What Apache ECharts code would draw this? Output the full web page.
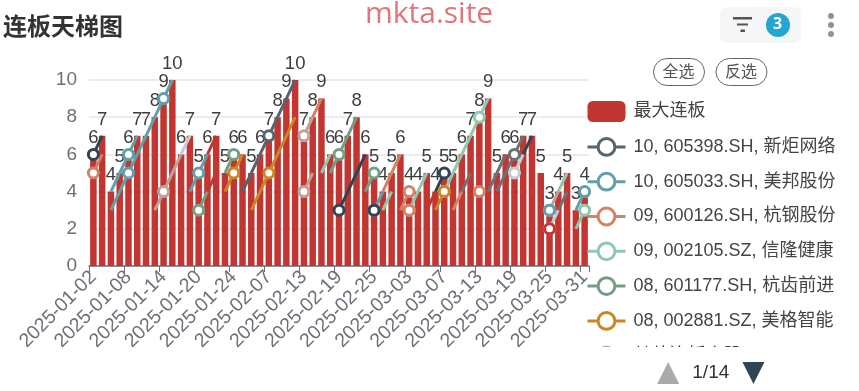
<!DOCTYPE html>
<html>
<head>
<meta charset="utf-8">
<style>html,body{margin:0;padding:0;background:#fff}#c{width:859px;height:391px}</style>
<script src="https://cdn.jsdelivr.net/npm/echarts@6/dist/echarts.min.js"></script>
</head>
<body>
<div id="c"></div>
<script>
const categories = [
'2025-01-02','2025-01-03','2025-01-06','2025-01-07','2025-01-08','2025-01-09','2025-01-10','2025-01-13','2025-01-14','2025-01-15',
'2025-01-16','2025-01-17','2025-01-20','2025-01-21','2025-01-22','2025-01-23','2025-01-24','2025-01-27','2025-02-05','2025-02-06',
'2025-02-07','2025-02-10','2025-02-11','2025-02-12','2025-02-13','2025-02-14','2025-02-17','2025-02-18','2025-02-19','2025-02-20',
'2025-02-21','2025-02-24','2025-02-25','2025-02-26','2025-02-27','2025-02-28','2025-03-03','2025-03-04','2025-03-05','2025-03-06',
'2025-03-07','2025-03-10','2025-03-11','2025-03-12','2025-03-13','2025-03-14','2025-03-17','2025-03-18','2025-03-19','2025-03-20',
'2025-03-21','2025-03-24','2025-03-25','2025-03-26','2025-03-27','2025-03-28','2025-03-31'];
const maxBoards = [6,7,4,5,6,7,7,8,9,10,6,7,5,6,7,5,6,6,5,6,7,8,9,10,7,8,9,6,6,7,8,6,5,4,5,6,4,4,5,4,5,5,6,7,8,9,5,6,6,7,7,5,3,4,5,3,4];

// Each run: first number = index of its first trading day, then the board counts
const runXinju = [17,4,5,6,7,8,9,10];
const runMeibang = [2,3,4,5,6,7,8,9,10];
const runHanggang = [25,8,9];
const runXinlong = [40,4,5,6,7,8,9];
const runHangchi = [27,5,6,7,8];
const runMeige = [18,3,4,5,6,7,8];
const namedRuns = [runXinju,runMeibang,runHanggang,runXinlong,runHangchi,runMeige];
const namedLabels = ['10, 605398.SH, 新炬网络','10, 605033.SH, 美邦股份','09, 600126.SH, 杭钢股份','09, 002105.SZ, 信隆健康','08, 601177.SH, 杭齿前进','08, 002881.SZ, 美格智能'];
const namedColors = ['#546570','#61a0a8','#d48265','#91c7ae','#749f83','#ca8622'];

const otherRuns = [
[24,7,8],[0,6,7],[0,5,6],[2,4,5,6,7],[7,3,4,5,6],[10,6,7],[11,4,5,6],[12,3,4],[13,6,7],[13,4,5],
[15,5,6],[15,4,5,6],[24,4,5],[26,5,6],[28,3,4,5,6],[31,4,5],[32,3,4],[32,3],[33,3,4],[33,4,5,6],
[35,3,4],[36,3,4,5],[36,3],[38,3,4],[39,4,5],[39,3,4],[41,3,4],[42,4,5],[44,4],[45,4,5,6],
[46,4,5,6,7],[48,5,6],[49,6,7],[52,3,4],[52,3],[52,2,3],[52,2],[53,3,4],[53,4,5],[55,3,4],[55,2,3]];
const otherColors = [
'#bda29a','#2f4554','#d48265','#61a0a8','#bda29a','#c4ccd3','#61a0a8','#749f83','#c23531','#c23531',
'#749f83','#ca8622','#bda29a','#91c7ae','#2f4554','#749f83','#61a0a8','#2f4554','#91c7ae','#d48265',
'#d48265','#91c7ae','#d48265','#c23531','#2f4554','#ca8622','#d48265','#6e7074','#d48265','#6e7074',
'#6e7074','#c4ccd3','#2f4554','#bda29a','#61a0a8','#c4ccd3','#c23531','#6e7074','#91c7ae','#61a0a8','#91c7ae'];

const fontFam = '"Liberation Sans","Noto Sans CJK SC",sans-serif';
function runToData(run){
  const d = categories.map(()=>null);
  run.slice(1).forEach((v,k)=>{ d[run[0]+k]=v; });
  return d;
}
function lineSeries(name,color,run){
  return {
    name, type:'line', data:runToData(run), connectNulls:false,
    symbol:'circle', symbolSize:10, showSymbol:true, showAllSymbol:'auto',
    lineStyle:{color,width:3}, itemStyle:{color:'#fff',borderColor:color,borderWidth:3},
    emphasis:{disabled:true}
  };
}
const otherNames = otherRuns.map((r,i)=>'其他连板个股 '+(i+1));
const series = [{
  name:'最大连板', type:'bar', data:maxBoards, barWidth:'74%',
  itemStyle:{color:'#c23531'},
  label:{show:true,position:'top',distance:7,color:'#3d3d3d',fontSize:18.5,fontFamily:fontFam},
  emphasis:{disabled:true}
}];
namedRuns.forEach((r,i)=>series.push(lineSeries(namedLabels[i],namedColors[i],r)));
otherRuns.forEach((r,i)=>series.push(lineSeries(otherNames[i],otherColors[i],r)));

const chart = echarts.init(document.getElementById('c'),null,{renderer:'canvas'});
const pill = (x,t)=>[
 {type:'rect',left:x,top:58,shape:{width:51,height:27,r:13.5},style:{fill:'#fff',stroke:'#666',lineWidth:1},silent:true},
 {type:'text',left:x+9.5,top:63,style:{text:t,fill:'#555',font:'16px "Noto Sans CJK SC"'},silent:true}
];
chart.setOption({
  animation:false,
  backgroundColor:'#fff',
  title:[
    {text:'连板天梯图',left:-2,top:9,textStyle:{fontSize:24,fontWeight:'bold',color:'#333',fontFamily:'"Noto Sans CJK SC"'}},
    {text:'mkta.site',left:360,top:-6,textStyle:{fontSize:30,fontWeight:'normal',color:'#e2747c',fontFamily:'"Open Sans"'}}
  ],
  grid:{left:89,right:270,top:80,bottom:125},
  xAxis:{type:'category',data:categories,
    axisLine:{lineStyle:{color:'#6E7079',width:1.5}},
    axisTick:{show:true,lineStyle:{color:'#6E7079'},length:6},
    axisLabel:{interval:3,rotate:45,fontSize:19.5,color:'#6E7079',margin:8,fontFamily:fontFam}},
  yAxis:{type:'value',min:0,max:10,interval:2,
    axisLine:{show:false},axisTick:{show:false},
    splitLine:{lineStyle:{color:'#E0E6F1',width:1.5}},
    axisLabel:{fontSize:19,color:'#6E7079',margin:12,fontFamily:fontFam}},
  legend:{type:'scroll',orient:'vertical',left:581,top:96,height:283,
    itemWidth:38,itemHeight:21,itemGap:15,
    lineStyle:{width:3},itemStyle:{borderWidth:3},
    data:[{name:'最大连板',itemStyle:{borderWidth:0}},...namedLabels,otherNames[0],otherNames[1]],
    textStyle:{fontSize:18,color:'#444',fontFamily:fontFam,padding:[0,0,0,3]},
    pageFormatter:'1/14',pageIconSize:22,pageButtonItemGap:10,pageButtonGap:15,
    pageIconColor:'#2f4554',pageIconInactiveColor:'#aaa',
    pageTextStyle:{color:'#333',fontSize:19,fontFamily:fontFam},
    inactiveColor:'#ccc'},
  tooltip:{show:false},
  series,
  graphic:[
    {type:'rect',left:720,top:7,shape:{width:81,height:36,r:7},style:{fill:'#f5f6f7'},silent:true},
    {type:'rect',left:733,top:17,shape:{width:19,height:2.5},style:{fill:'#555'},silent:true},
    {type:'rect',left:737,top:23.5,shape:{width:11,height:2},style:{fill:'#555'},silent:true},
    {type:'rect',left:740.5,top:29.5,shape:{width:4.5,height:2.5},style:{fill:'#555'},silent:true},
    {type:'circle',left:766,top:13,shape:{r:12},style:{fill:'#22a7d1'},silent:true},
    {type:'text',left:773,top:16,style:{text:'3',fill:'#fff',font:'bold 16px "Open Sans"'},silent:true},
    {type:'circle',left:828,top:13,shape:{r:3},style:{fill:'#8a949c'},silent:true},
    {type:'circle',left:828,top:22,shape:{r:3},style:{fill:'#8a949c'},silent:true},
    {type:'circle',left:828,top:31,shape:{r:3},style:{fill:'#8a949c'},silent:true},
    ...pill(653,'全选'),...pill(715.5,'反选')
  ]
});
</script>
</body>
</html>
